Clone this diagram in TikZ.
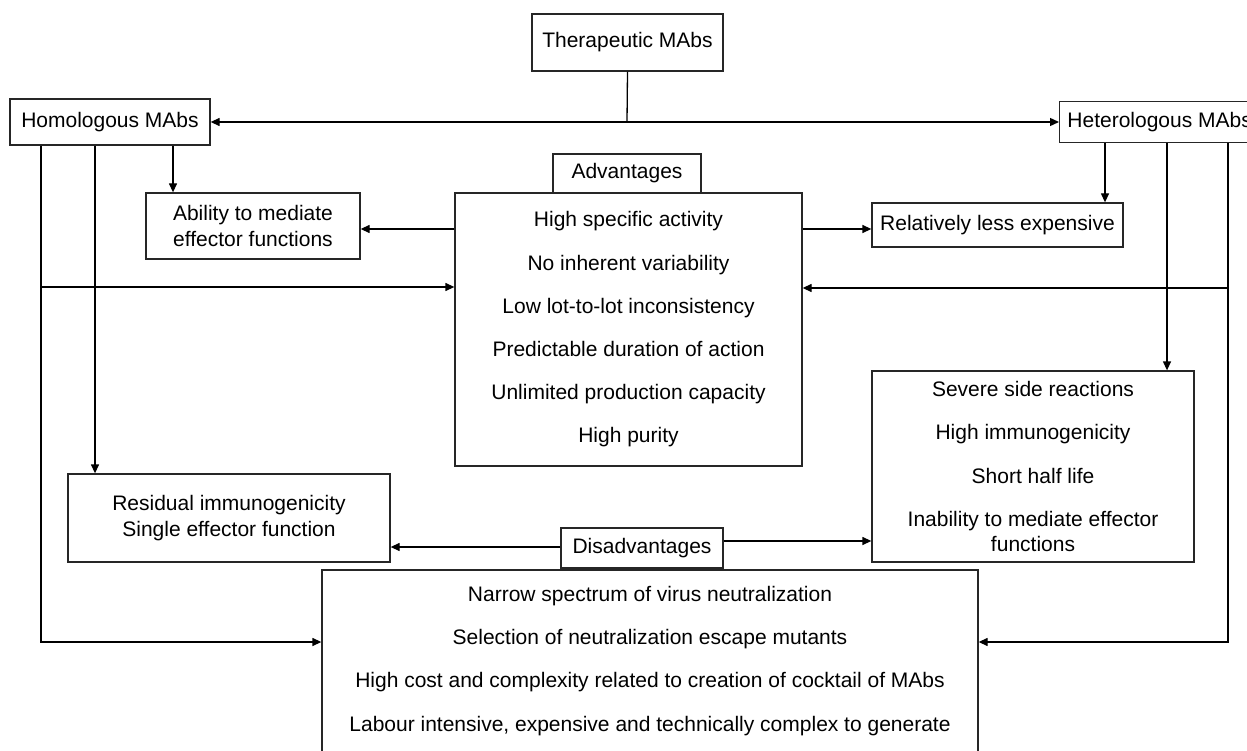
\documentclass[tikz,border=0pt]{standalone}
\usepackage{fontspec}
\setmainfont{Liberation Sans}
\usetikzlibrary{arrows.meta,calc}
\begin{document}
\begin{tikzpicture}[x=1pt,y=-1pt,
  box/.style={draw=black!85, line width=1.3pt, fill=white, inner sep=0pt, align=center, font=\fontsize{21}{25.2}\selectfont},
  conn/.style={line width=1.3pt, draw=black},
  arr/.style={conn, -{Triangle[length=9pt,width=8pt]}},
  darr/.style={conn, {Triangle[length=9pt,width=8pt]}-{Triangle[length=9pt,width=8pt]}}]
\useasboundingbox (0,0) rectangle (1247,751);
\clip (0,0) rectangle (1247,751);

% nodes
\node[box, minimum width=191, minimum height=57] (ther) at (627.5,42.5) {Therapeutic MAbs};
\node[box, minimum width=200, minimum height=46] (homo) at (110,122) {Homologous MAbs};
\node[box, minimum width=200, minimum height=41, anchor=west] (hetero) at (1059,122) {Heterologous MAbs};
\node[box, minimum width=347, minimum height=273] (adv) at (628.5,329.5)
  {High specific activity\\[18pt] No inherent variability\\[18pt] Low lot-to-lot inconsistency\\[18pt]
   Predictable duration of action\\[18pt] Unlimited production capacity\\[18pt] High purity};
\node[box, minimum width=148, minimum height=39] (advl) at (627,173.5) {Advantages};
\node[box, minimum width=214, minimum height=66] (abil) at (253,226) {Ability to mediate\\effector functions};
\node[box, minimum width=251, minimum height=44] (rel) at (997.5,225) {Relatively less expensive};
\node[box, minimum width=322, minimum height=191] (sev) at (1033,466.5)
  {Severe side reactions\\[18pt] High immunogenicity\\[18pt] Short half life\\[18pt] Inability to mediate effector\\functions};
\node[box, minimum width=322, minimum height=88] (res) at (229,518) {Residual immunogenicity\\Single effector function};
\node[box, minimum width=656, minimum height=228] (bot) at (650,684)
  {Narrow spectrum of virus neutralization\\[18pt] Selection of neutralization escape mutants\\[18pt]
   High cost and complexity related to creation of cocktail of MAbs\\[18pt]
   Labour intensive, expensive and technically complex to generate\\[18pt]\strut};
\node[box, minimum width=162, minimum height=40] (dis) at (642,548) {Disadvantages};

% helper coordinates
\coordinate (j) at (627,122);
\coordinate (hx1) at (41,0);
\coordinate (hx2) at (95,0);
\coordinate (hx3) at (173,0);
\coordinate (tx1) at (1105,0);
\coordinate (tx2) at (1167,0);
\coordinate (tx3) at (1228,0);
\coordinate (ya) at (0,229);
\coordinate (yl) at (0,287);
\coordinate (yr) at (0,288);
\coordinate (yb) at (0,642);
\coordinate (yd1) at (0,547);
\coordinate (yd2) at (0,541);

% connectors
\draw[conn] (ther.south) -- (j);
\draw[darr] (homo.east) -- (hetero.west);
\draw[arr] (homo.south -| hx3) -- (abil.north -| hx3);
\draw[arr] (homo.south -| hx2) -- (res.north -| hx2);
\draw[arr] (homo.south -| hx1) |- (bot.west |- yb);
\draw[arr] (hx1 |- yl) -- (adv.west |- yl);
\draw[arr] (adv.west |- ya) -- (abil.east |- ya);
\draw[arr] (adv.east |- ya) -- (rel.west |- ya);
\draw[arr] (hetero.south -| tx1) -- (rel.north -| tx1);
\draw[arr] (hetero.south -| tx2) -- (sev.north -| tx2);
\draw[arr] (hetero.south -| tx3) |- (bot.east |- yb);
\draw[arr] (tx3 |- yr) -- (adv.east |- yr);
\draw[arr] (dis.west |- yd1) -- (res.east |- yd1);
\draw[arr] (dis.east |- yd2) -- (sev.west |- yd2);
\end{tikzpicture}
\end{document}
